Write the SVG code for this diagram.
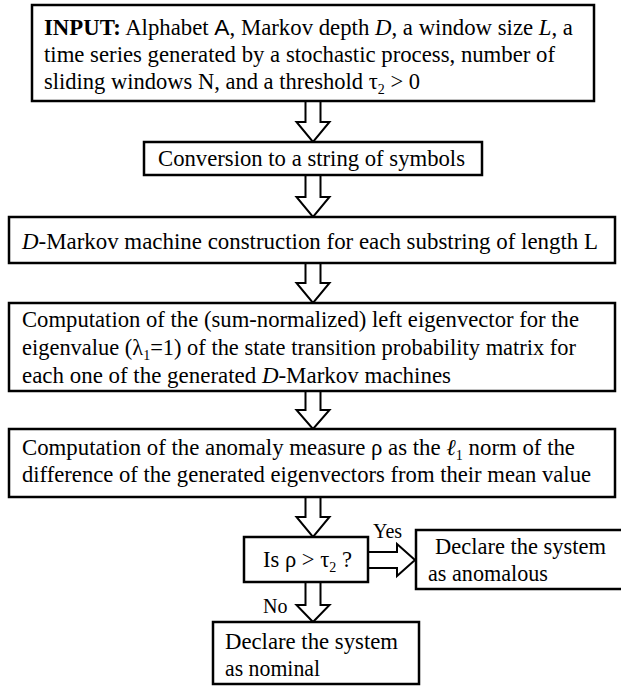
<svg xmlns="http://www.w3.org/2000/svg" width="621" height="686" viewBox="0 0 621 686">
<style>
.box{fill:#fff;stroke:#000;stroke-width:2.5}
.arr{fill:#fff;stroke:#000;stroke-width:2;stroke-linejoin:miter}
text{font-family:"Liberation Serif","Times New Roman",serif;font-size:22.5px;fill:#000}
.it{font-style:italic}
.b{font-weight:bold}
.sans{font-family:"Liberation Sans",Arial,sans-serif}
.sub{font-size:14px}
.lbl{font-size:20px}
</style>
<rect width="621" height="686" fill="#fff"/>
<g id="connectors">
<polygon class="arr" points="305.5,101 320.5,101 320.5,122 329.5,122 313,142 296.5,122 305.5,122"/>
<polygon class="arr" points="305.5,175 320.5,175 320.5,197 329.5,197 313,217 296.5,197 305.5,197"/>
<polygon class="arr" points="305.5,263 320.5,263 320.5,283 329.5,283 313,303 296.5,283 305.5,283"/>
<polygon class="arr" points="305.5,391 320.5,391 320.5,410 329.5,410 313,429 296.5,410 305.5,410"/>
<polygon class="arr" points="305.5,497 320.5,497 320.5,517 329.5,517 313,537 296.5,517 305.5,517"/>
<polygon class="arr" points="368,552 397,552 397,544 415,560 397,576 397,568 368,568"/>
<polygon class="arr" points="305.5,582 320.5,582 320.5,605 329.5,605 313,622 296.5,605 305.5,605"/>
<text class="lbl" x="373" y="538">Yes</text>
<text class="lbl" x="263" y="613">No</text>
</g>
<g id="input">
<rect class="box" x="32" y="5" width="562" height="96"/>
<text x="44" y="35" textLength="529" lengthAdjust="spacingAndGlyphs"><tspan class="b">INPUT:</tspan> Alphabet <tspan class="sans">A</tspan>, Markov depth <tspan class="it">D</tspan>, a window size <tspan class="it">L</tspan>, a</text>
<text x="44" y="62" textLength="511" lengthAdjust="spacingAndGlyphs">time series generated by a stochastic process, number of</text>
<text x="44" y="89" textLength="376" lengthAdjust="spacingAndGlyphs">sliding windows N, and a threshold τ<tspan class="sub" dy="5">2</tspan><tspan dy="-5"> &gt; 0</tspan></text>
</g>
<g id="conversion">
<rect class="box" x="144" y="142" width="338" height="33"/>
<text x="158" y="166" textLength="307" lengthAdjust="spacingAndGlyphs">Conversion to a string of symbols</text>
</g>
<g id="dmarkov">
<rect class="box" x="9" y="217" width="606" height="46"/>
<text x="22" y="249" textLength="576" lengthAdjust="spacingAndGlyphs"><tspan class="it">D</tspan>-Markov machine construction  for each substring of length L</text>
</g>
<g id="eigen">
<rect class="box" x="9" y="303" width="606" height="88"/>
<text x="22" y="327" textLength="557" lengthAdjust="spacingAndGlyphs">Computation of the (sum-normalized) left eigenvector for the</text>
<text x="22" y="355" textLength="554" lengthAdjust="spacingAndGlyphs">eigenvalue  (λ<tspan class="sub" dy="5">1</tspan><tspan dy="-5">=1) of the state transition probability matrix for</tspan></text>
<text x="22" y="383" textLength="429" lengthAdjust="spacingAndGlyphs">each one of the generated  <tspan class="it">D</tspan>-Markov machines</text>
</g>
<g id="anomaly">
<rect class="box" x="9" y="429" width="606" height="68"/>
<text x="22" y="455" textLength="553" lengthAdjust="spacingAndGlyphs">Computation of the anomaly measure ρ as the <tspan class="it">ℓ</tspan><tspan class="sub" dy="5">1</tspan><tspan dy="-5"> norm of the</tspan></text>
<text x="22" y="482" textLength="569" lengthAdjust="spacingAndGlyphs">difference of the generated eigenvectors from their mean value</text>
</g>
<g id="decision">
<rect class="box" x="244" y="537" width="124" height="45"/>
<text x="263" y="567" textLength="89" lengthAdjust="spacingAndGlyphs">Is ρ &gt; τ<tspan class="sub" dy="5">2</tspan><tspan dy="-5"> ?</tspan></text>
</g>
<g id="anomalous">
<rect class="box" x="416" y="530" width="210" height="59"/>
<text x="435" y="554" textLength="171" lengthAdjust="spacingAndGlyphs">Declare the system</text>
<text x="428" y="581" textLength="120" lengthAdjust="spacingAndGlyphs">as anomalous</text>
</g>
<g id="nominal">
<rect class="box" x="213" y="622" width="206" height="62"/>
<text x="225" y="649" textLength="173" lengthAdjust="spacingAndGlyphs">Declare the system</text>
<text x="225" y="676" textLength="95" lengthAdjust="spacingAndGlyphs">as nominal</text>
</g>
</svg>
